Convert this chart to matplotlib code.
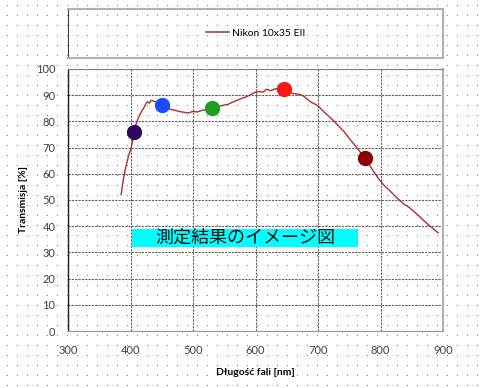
import numpy as np
import matplotlib.pyplot as plt
from matplotlib.lines import Line2D
from matplotlib.patches import Rectangle

# measured transmission curve
wavelength = [385, 388, 391, 394, 397, 400, 403, 406, 409, 412, 415, 418, 421, 424, 427,
              430, 433, 436, 440, 445, 450, 455, 460, 466, 472, 478, 485, 492, 500, 507,
              514, 521, 528, 535, 542, 549, 556, 563, 570, 577, 584, 591, 598, 605, 612,
              618, 624, 630, 636, 642, 648, 654, 660, 666, 672, 678, 684, 690, 696, 702,
              710, 718, 726, 734, 742, 750, 758, 766, 774, 782, 790, 798, 806, 814, 822,
              830, 838, 846, 854, 862, 870, 878, 886, 892]
transmission = [52, 57, 61, 64, 67, 69, 72, 76, 79, 81, 82.5, 84, 85, 86.5, 87.5,
                87, 88, 87.8, 87.5, 87, 86.5, 86, 85, 84.5, 84.2, 83.8, 83.5, 83.2, 83.8, 83.6,
                84.2, 84.5, 85, 85.5, 85.8, 86.2, 86.5, 87.3, 88, 88.7, 89.3, 90, 91, 91.4, 91.2,
                92.3, 91.7, 92.3, 92.6, 92.4, 92.2, 91.3, 90.6, 90.5, 90.2, 89.5, 88.2, 87.2, 86.5, 85.5,
                83.5, 81.8, 80, 78, 76, 73.5, 71.2, 68.8, 66.3, 63.5, 60.5, 57.8, 55.5, 53.8, 51.8,
                50.0, 48.3, 47.2, 45.5, 43.8, 42, 40.3, 38.7, 37.5]

# coloured sample points
marker_wl = [405, 451, 531, 646, 775]
marker_t = [76, 86.3, 85, 92.4, 65.9]
marker_colors = ["#2a0a5e", "#1a4cff", "#1e9e22", "#ff1414", "#8a0000"]

series_label = "Nikon 10x35 EII"
x_ticks = [300, 400, 500, 600, 700, 800, 900]
y_ticks = [0, 10, 20, 30, 40, 50, 60, 70, 80, 90, 100]

plt.rcParams['font.family'] = ['Lato', 'DejaVu Sans']

W, H = 480, 388
fig = plt.figure(figsize=(W / 100, H / 100), dpi=100)
fig.patch.set_facecolor("white")

# dotted paper background
bg = fig.add_axes([0, 0, 1, 1], zorder=-5)
bg.set_xlim(0, W)
bg.set_ylim(H, 0)
bg.axis("off")
gx, gy = np.meshgrid(np.arange(7, W, 10), np.arange(5, H, 10))
bg.scatter(gx.ravel(), gy.ravel(), s=0.5, color="#6f6f6f", linewidths=0)

# legend box
lax = fig.add_axes([68 / W, 1 - 58 / H, (443 - 68) / W, 49 / H])
lax.set_facecolor("none")
lax.set_xticks([])
lax.set_yticks([])
for s in ["top", "right", "bottom"]:
    lax.spines[s].set_color("#b0b0b0")
    lax.spines[s].set_linewidth(1.5)
lax.spines["left"].set_color("#404040")
lax.spines["left"].set_linewidth(0.8)
handle = Line2D([], [], color="#c0392b", lw=1.2)
lax.legend([handle], [series_label], loc="center", bbox_to_anchor=(0.5, 0.5),
           frameon=False, fontsize=7.5, handlelength=2.2, handletextpad=0.3)

ax = fig.add_axes([68 / W, 1 - 331 / H, (443 - 68) / W, (331 - 69) / H])
ax.set_facecolor("none")
ax.set_xlim(300, 900)
ax.set_ylim(0, 100)
ax.set_xticks(x_ticks)
ax.set_yticks(y_ticks)
ax.tick_params(length=0, labelsize=8, labelcolor="#404040")
ax.tick_params(axis="x", pad=10)
ax.tick_params(axis="y", pad=9)
ax.grid(True, color="#606060", linestyle=(0, (2, 1)), linewidth=0.8)
ax.spines["left"].set_color("#202020")
ax.spines["left"].set_linewidth(1.0)
ax.spines["bottom"].set_color("#9a9a9a")
ax.spines["right"].set_color("#b0b0b0")
ax.spines["right"].set_linewidth(1.5)
ax.spines["top"].set_color("#808080")
ax.spines["top"].set_linestyle((0, (2, 1)))

ax.plot(wavelength, transmission, color="#a8322d", lw=1.0, zorder=3)
for wl, t, c in zip(marker_wl, marker_t, marker_colors):
    ax.plot(wl, t, "o", color=c, markersize=10, zorder=4)

ax.set_xlabel("Długość fali [nm]", fontsize=7.5, fontweight="bold", labelpad=9)
ax.set_ylabel("Transmisja [%]", fontsize=7.5, fontweight="bold", labelpad=6)

# overlay caption
fig.patches.append(Rectangle((132 / W, 1 - 247 / H), (358 - 132) / W, 18 / H,
                             transform=fig.transFigure, facecolor="#00ffff",
                             edgecolor="none", zorder=5))
fig.text(245 / W, 1 - 238 / H, "測定結果のイメージ図", ha="center", va="center",
         fontsize=13, family=["Noto Sans CJK JP", "DejaVu Sans"], color="#101010",
         zorder=6)

fig.savefig("out.png", dpi=100)
